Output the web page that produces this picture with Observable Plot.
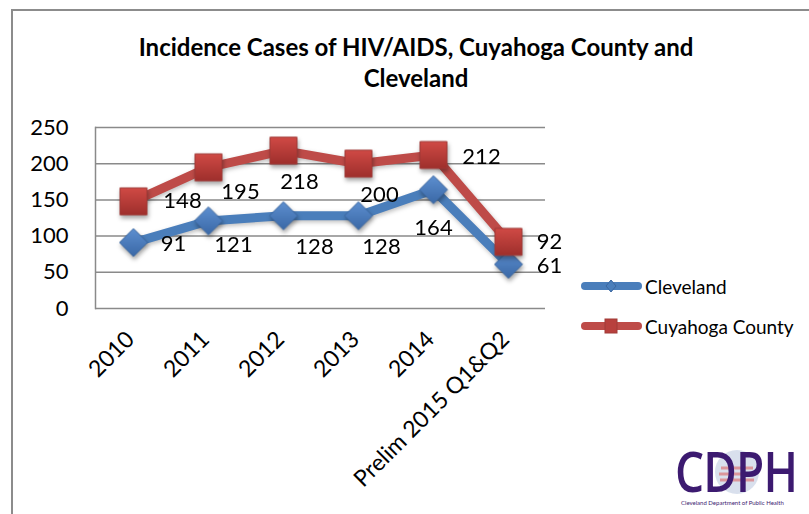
<!DOCTYPE html>
<html><head><meta charset="utf-8">
<script src="https://cdn.jsdelivr.net/npm/d3@7"></script>
<script src="https://cdn.jsdelivr.net/npm/@observablehq/plot@0.6"></script>
<style>
body{margin:0;background:#fff;}
#wrap{position:relative;width:809px;height:514px;overflow:hidden;font-family:Lato,sans-serif;}
#frame{position:absolute;left:11px;top:9px;width:900px;height:600px;border-left:2px solid #8c8c8c;border-top:2px solid #8c8c8c;}
#chart{position:absolute;left:0;top:0;}
#title{position:absolute;left:0;width:832px;top:31px;text-align:center;font-weight:bold;font-size:24px;line-height:31px;color:#000;}
#legend{position:absolute;left:580px;top:266px;font-size:19px;color:#000;}
.item{display:flex;align-items:center;height:40px;}
.item svg{margin-right:3px;}
#logo{position:absolute;left:673px;top:443px;width:125px;height:65px;}
#logo .big{position:absolute;left:2px;top:2px;font-family:"Open Sans",sans-serif;font-weight:600;font-size:56px;line-height:50px;letter-spacing:-1px;color:#3c1a70;transform:scaleX(0.82);transform-origin:0 0;}
#logo .small{position:absolute;left:8px;top:56px;font-size:6px;line-height:7px;color:#3c1a70;white-space:nowrap;}
</style></head>
<body>
<div id="wrap">
  <div id="frame"></div>
  <div id="chart"></div>
  <div id="title">Incidence Cases of HIV/AIDS, Cuyahoga County and<br>Cleveland</div>
  <div id="legend"></div>
  <div id="logo">
    <svg width="125" height="60" style="position:absolute;left:0;top:0">
      <circle cx="64" cy="29" r="22" fill="#c9d3e6" opacity="0.7"/>
      <path d="M48 25 h32 M46 31 h36 M47 37 h34" stroke="#d66" stroke-width="3" opacity="0.6"/>
    </svg>
    <div class="big">CDPH</div>
    <div class="small">Cleveland Department of Public Health</div>
  </div>
</div>
<script>
const categories = ["2010", "2011", "2012", "2013", "2014", "Prelim 2015 Q1&Q2"];
const cleveland = [91, 121, 128, 128, 164, 61];
const cuyahoga = [148, 195, 218, 200, 212, 92];
const yTicks = [0, 50, 100, 150, 200, 250];
const seriesNames = ["Cleveland", "Cuyahoga County"];

const rowsC = categories.map((c, i) => ({cat: c, value: cleveland[i]}));
const rowsR = categories.map((c, i) => ({cat: c, value: cuyahoga[i]}));

// manual label nudges (like Excel's hand-placed data labels)
const nudgeC = [[40, 1], [25, 24], [31, 31], [23, 31], [0, 38], [41, 2]];
const nudgeR = [[49, 0], [32, 25], [16, 31], [21, 31], [48, 2], [41, 0]];

const labelMarks = (rows, nudge) => rows.map((r, i) =>
  Plot.text([r], {x: "cat", y: "value", text: d => String(d.value), dx: nudge[i][0], dy: nudge[i][1], fontSize: 22, fill: "#000"}));

const plot = Plot.plot({
  width: 809, height: 514,
  marginLeft: 95, marginRight: 264, marginTop: 127, marginBottom: 206,
  style: {fontFamily: "Lato, sans-serif", fontSize: "22px", color: "#000", background: "transparent", overflow: "visible"},
  x: {type: "point", domain: categories, padding: 0.5, label: null},
  y: {domain: [0, 250], label: null},
  marks: [
    Plot.gridY(yTicks, {stroke: "#8a8a8a", strokeOpacity: 1, strokeWidth: 1.5}),
    Plot.frame({anchor: "left", stroke: "#8a8a8a", strokeWidth: 1.5}),
    Plot.axisY(yTicks, {tickSize: 0, tickPadding: 27, fontSize: 22, label: null}),
    Plot.axisX({tickSize: 0, tickRotate: -45, tickPadding: 27, dx: -3, fontSize: 23, label: null}),
    Plot.line(rowsC, {x: "cat", y: "value", stroke: "#4a7ebb", strokeWidth: 9}),
    Plot.dot(rowsC, {x: "cat", y: "value", symbol: "diamond2", r: 12.6, fill: "url(#gBlue)", stroke: "#3b67a0", strokeWidth: 1}),
    Plot.line(rowsR, {x: "cat", y: "value", stroke: "#be4b48", strokeWidth: 9}),
    Plot.dot(rowsR, {x: "cat", y: "value", symbol: "square", r: 15.2, fill: "url(#gRed)", stroke: "#a03a37", strokeWidth: 1}),
    ...labelMarks(rowsC, nudgeC),
    ...labelMarks(rowsR, nudgeR)
  ]
});

const ns = "http://www.w3.org/2000/svg";
const defs = document.createElementNS(ns, "defs");
defs.innerHTML = `
<linearGradient id="gBlue" x1="0" y1="0" x2="0" y2="1">
  <stop offset="0" stop-color="#5d8fd0"/><stop offset="1" stop-color="#3a68a6"/></linearGradient>
<linearGradient id="gRed" x1="0" y1="0" x2="0" y2="1">
  <stop offset="0" stop-color="#d04a45"/><stop offset="1" stop-color="#9e2f2c"/></linearGradient>`;
plot.insertBefore(defs, plot.firstChild);
plot.querySelectorAll('g[aria-label="dot"]').forEach(g => g.style.filter = "drop-shadow(1px 3px 2px rgba(0,0,0,0.35))");
plot.querySelectorAll('g[aria-label="line"]').forEach(g => g.style.filter = "drop-shadow(1px 2px 2px rgba(0,0,0,0.25))");
document.getElementById("chart").appendChild(plot);

// legend
const legendColors = [["#4a7ebb", "diamond"], ["#be4b48", "square"]];
const legend = document.getElementById("legend");
seriesNames.forEach((name, i) => {
  const [col, shape] = legendColors[i];
  const marker = shape === "diamond"
    ? `<path d="M31 7 L36 13 L31 19 L26 13 Z" fill="${col}" stroke="#3b67a0"/>`
    : `<rect x="25" y="6" width="12" height="14" fill="#b8403d" stroke="#a03a37"/>`;
  const div = document.createElement("div");
  div.className = "item";
  div.innerHTML = `<svg width="62" height="26"><line x1="5" x2="58" y1="13" y2="13" stroke="${col}" stroke-width="8" stroke-linecap="round"/>${marker}</svg><span>${name}</span>`;
  legend.appendChild(div);
});
</script>
</body></html>
